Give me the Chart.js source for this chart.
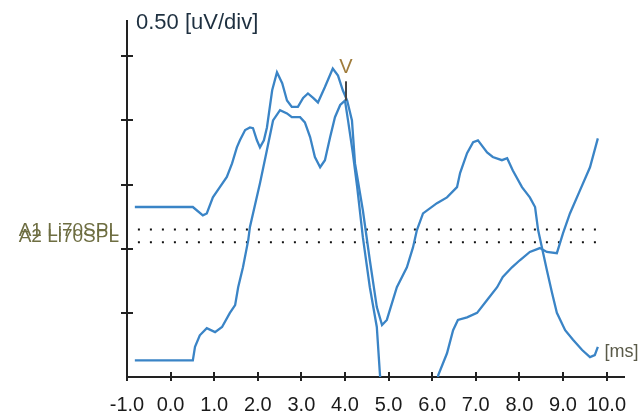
<!DOCTYPE html>
<html>
<head>
<meta charset="utf-8">
<script src="https://cdn.jsdelivr.net/npm/chart.js@4/dist/chart.umd.min.js"></script>
<style>
  html, body { margin: 0; padding: 0; background: #fff; }
  #wrap { width: 644px; height: 418px; }
</style>
</head>
<body>
<div id="wrap"><canvas id="abrChart"></canvas></div>
<script>
// time axis [ms] and tick marks
var xTicks = [-1, 0, 1, 2, 3, 4, 5, 6, 7, 8, 9, 10];
var yTicks = [1, 2, 3, 4, 5];          // divisions (0.50 uV each)

// trace A1 (upper)
var a1Time = [-0.82, 0.51, 0.74, 0.83, 0.97, 1.13, 1.29, 1.41, 1.52, 1.59,
    1.71, 1.82, 1.89, 1.98, 2.05, 2.14, 2.21, 2.33, 2.44, 2.56,
    2.67, 2.78, 2.92, 3.04, 3.15, 3.27, 3.38, 3.54, 3.72, 3.84,
    3.95, 4.05, 4.16, 4.23, 4.41, 4.57, 4.73, 4.85, 4.96, 5.19,
    5.42, 5.56, 5.65, 5.79, 6.11, 6.34, 6.57, 6.64, 6.80, 6.94,
    7.05, 7.26, 7.39, 7.60, 7.72, 7.85, 8.06, 8.24, 8.36, 8.43,
    8.52, 8.63, 8.75, 8.86, 9.05, 9.23, 9.44, 9.62, 9.73, 9.80];
var a1Amp = [2.65, 2.65, 2.52, 2.55, 2.80, 2.96, 3.12, 3.33, 3.58, 3.69,
    3.85, 3.89, 3.88, 3.69, 3.58, 3.69, 3.89, 4.47, 4.75, 4.58,
    4.31, 4.21, 4.21, 4.35, 4.42, 4.35, 4.28, 4.52, 4.81, 4.70,
    4.47, 4.31, 4.00, 3.33, 2.60, 1.82, 1.09, 0.81, 0.89, 1.40,
    1.71, 2.02, 2.29, 2.55, 2.71, 2.80, 2.96, 3.18, 3.49, 3.66,
    3.69, 3.50, 3.43, 3.38, 3.41, 3.22, 2.96, 2.80, 2.65, 2.29,
    2.01, 1.67, 1.31, 1.00, 0.73, 0.58, 0.42, 0.31, 0.34, 0.47];

// trace A2 (lower)
var a2Time = [-0.82, 0.51, 0.56, 0.67, 0.83, 1.02, 1.18, 1.36, 1.48, 1.55,
    1.66, 1.78, 1.82, 2.05, 2.21, 2.35, 2.51, 2.67, 2.78, 2.97,
    3.08, 3.20, 3.31, 3.43, 3.54, 3.66, 3.77, 3.89, 4.00, 4.07,
    4.18, 4.28, 4.41, 4.57, 4.73, 4.80, 4.88, 6.05, 6.14, 6.34,
    6.48, 6.59, 6.80, 7.03, 7.26, 7.49, 7.62, 7.83, 8.01, 8.24,
    8.47, 8.63, 8.86, 9.00, 9.16, 9.39, 9.62, 9.80];
var a2Amp = [0.26, 0.26, 0.47, 0.65, 0.76, 0.70, 0.78, 1.00, 1.12, 1.40,
    1.71, 2.13, 2.34, 3.02, 3.54, 4.00, 4.16, 4.11, 4.05, 4.05,
    3.97, 3.74, 3.43, 3.27, 3.38, 3.74, 4.05, 4.24, 4.31, 4.00,
    3.49, 2.96, 2.18, 1.40, 0.78, 0.06, -0.60, -0.60, 0.03, 0.37,
    0.73, 0.89, 0.93, 1.00, 1.20, 1.40, 1.56, 1.71, 1.82, 1.95,
    2.01, 1.95, 1.93, 2.24, 2.55, 2.91, 3.27, 3.72];

// dotted reference lines for each trace
var refTime = [-0.75, 9.78];
var a1Level = 2.30;
var a2Level = 2.10;

// wave V marker
var waveVTime = 4.0;
var waveVAmp = 4.31;

var traceColor = '#3a84c6';
var fontFamily = "'Liberation Sans', Arial, sans-serif";

function toPoints(t, a) {
    return t.map(function (v, i) { return { x: v, y: a[i] }; });
}

function refLine(level) {
    return refTime.map(function (v) { return { x: v, y: level }; });
}

// Draws crossing tick marks, labels and the V marker
var overlayPlugin = {
    id: 'overlay',
    afterDraw: function (chart) {
        var ctx = chart.ctx;
        var x = chart.scales.x, y = chart.scales.y;
        ctx.save();
        ctx.strokeStyle = '#222';
        ctx.lineWidth = 2;
        ctx.beginPath();
        yTicks.forEach(function (v) {
            var py = Math.round(y.getPixelForValue(v));
            ctx.moveTo(x.left - 6, py);
            ctx.lineTo(x.left + 6, py);
        });
        xTicks.forEach(function (v) {
            var px = Math.round(x.getPixelForValue(v));
            ctx.moveTo(px, y.bottom - 5);
            ctx.lineTo(px, y.bottom + 4);
        });
        ctx.stroke();

        // V marker
        var vx = x.getPixelForValue(waveVTime) + 1;
        ctx.strokeStyle = '#444';
        ctx.beginPath();
        ctx.moveTo(vx, y.getPixelForValue(waveVAmp + 0.30));
        ctx.lineTo(vx, y.getPixelForValue(waveVAmp));
        ctx.stroke();
        ctx.fillStyle = '#a07c3c';
        ctx.font = '20px ' + fontFamily;
        ctx.textAlign = 'center';
        ctx.textBaseline = 'middle';
        ctx.fillText('V', vx, y.getPixelForValue(waveVAmp + 0.52));

        // scale label
        ctx.textAlign = 'left';
        ctx.fillStyle = '#1e3040';
        ctx.font = '22px ' + fontFamily;
        ctx.fillText('0.50 [uV/div]', x.left + 9, y.top + 2);

        // unit label
        ctx.fillStyle = '#5a5a48';
        ctx.font = '18px ' + fontFamily;
        ctx.fillText('[ms]', x.getPixelForValue(10.0) - 2, y.getPixelForValue(0.39));

        // trace labels
        ctx.textAlign = 'right';
        ctx.fillStyle = '#6e6e42';
        ctx.font = '19px ' + fontFamily;
        ctx.fillText('A1 Li70SPL', x.left - 8, y.getPixelForValue(a1Level) + 1);
        ctx.fillText('A2 Li70SPL', x.left - 8, y.getPixelForValue(a2Level) - 6);
        ctx.restore();
    }
};

new Chart(document.getElementById('abrChart'), {
    type: 'line',
    data: {
        datasets: [
            {
                label: 'A1',
                data: toPoints(a1Time, a1Amp),
                borderColor: traceColor,
                borderWidth: 2.3,
                pointRadius: 0,
                tension: 0
            },
            {
                label: 'A2',
                data: toPoints(a2Time, a2Amp),
                borderColor: traceColor,
                borderWidth: 2.3,
                pointRadius: 0,
                tension: 0,
                clip: 0
            },
            {
                label: 'A1 ref',
                data: refLine(a1Level),
                borderColor: '#111',
                borderWidth: 2,
                borderDash: [2, 10],
                pointRadius: 0
            },
            {
                label: 'A2 ref',
                data: refLine(a2Level),
                borderColor: '#111',
                borderWidth: 2,
                borderDash: [2, 10],
                pointRadius: 0
            }
        ]
    },
    options: {
        responsive: true,
        maintainAspectRatio: false,
        animation: false,
        layout: { padding: { left: 0, top: 21, right: 20, bottom: 0 } },
        plugins: {
            legend: { display: false },
            tooltip: { enabled: false }
        },
        scales: {
            x: {
                type: 'linear',
                min: -1,
                max: 10.4,
                afterBuildTicks: function (scale) {
                    scale.ticks = xTicks.map(function (v) { return { value: v }; });
                },
                afterFit: function (scale) { scale.height = 41; },
                grid: { display: false, drawTicks: false },
                border: { display: true, color: '#222', width: 2 },
                ticks: {
                    padding: 16,
                    color: '#1a1a1a',
                    font: { size: 20, family: fontFamily },
                    maxRotation: 0,
                    autoSkip: false,
                    callback: function (v) { return v.toFixed(1); }
                }
            },
            y: {
                type: 'linear',
                min: 0,
                max: 5.55,
                afterFit: function (scale) { scale.width = 127; },
                grid: { display: false, drawTicks: false },
                border: { display: true, color: '#222', width: 2 },
                ticks: { display: false }
            }
        }
    },
    plugins: [overlayPlugin]
});
</script>
</body>
</html>
